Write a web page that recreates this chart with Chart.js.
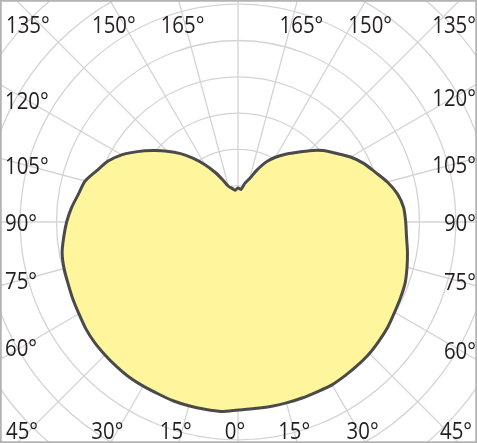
<!DOCTYPE html>
<html>
<head>
<meta charset="utf-8">
<script src="https://cdn.jsdelivr.net/npm/chart.js@4.4.1/dist/chart.umd.min.js"></script>
<style>
  html, body { margin: 0; padding: 0; background: #ffffff; }
  #wrap { width: 477px; height: 443px; position: relative; overflow: hidden; }
  canvas { display: block; }
</style>
</head>
<body>
<div id="wrap"><canvas id="c" width="477" height="443"></canvas></div>
<script>
// ---- data (luminous intensity, cd/klm) ----
// gamma angles 0..180 in 5 degree steps
const gammaAngles = [0,5,10,15,20,25,30,35,40,45,50,55,60,65,70,75,80,85,90,
                     95,100,105,110,115,120,125,130,135,140,145,150,155,160,165,170,175,180];
// C270 half-plane (drawn on the left)
const intensityLeft = [259,262,262,262,262,261,261,261,260,259,258,256,253,251,249,248,246,241,236,
                       230,223,218,207,198,185,169,153,138,123,107,91,76,62,51,47,44,47];
// C90 half-plane (drawn on the right)
const intensityRight = [259,258,258,258,258,258,259,258,257,256,254,252,249,247,245,241,237,233,231,
                        229,223,213,201,191,179,165,153,139,125,114,103,91,76,62,54,45,47];
// angle labels shown around the frame
const labelAnglesLeft = [0,15,30,45,60,75,90,105,120,135,150,165];
const labelAnglesRight = [15,30,45,60,75,90,105,120,135,150,165];
// radial grid
const gridStep = 50;
const gridMax = 450;

// ---- build the full 360 degree sequence (clockwise from the bottom) ----
const seqLabels = [];
const seqValues = [];
for (let i = 0; i < gammaAngles.length; i++) {
  seqLabels.push(gammaAngles[i] + '°');
  seqValues.push(intensityLeft[i]);
}
for (let i = gammaAngles.length - 2; i >= 1; i--) {
  seqLabels.push(gammaAngles[i] + '°');
  seqValues.push(intensityRight[i]);
}

// layout of the polar origin inside the frame
const CENTER_X = 238, CENTER_Y = 222, PX_PER_STEP = 36.3;

const frameLabels = {
  id: 'frameLabels',
  afterDraw(chart) {
    const ctx = chart.ctx;
    const s = chart.scales.r;
    const W = chart.width, H = chart.height;
    const cx = s.xCenter, cy = s.yCenter;
    const fs = 24, sx = 0.85, capH = fs * 0.714;
    const TOP_Y = 24, BOT_Y = 430;
    ctx.save();
    ctx.font = '400 ' + fs + 'px "Open Sans", sans-serif';
    ctx.fillStyle = '#231f20';
    ctx.textAlign = 'center';
    ctx.textBaseline = 'alphabetic';
    const place = (deg, side) => {
      const text = deg + '°';
      const w = ctx.measureText(text).width * sx;
      const a = deg * Math.PI / 180;
      const dx = side * Math.sin(a), dy = Math.cos(a);
      const tTop = dy < -1e-9 ? (0 - cy) / dy : Infinity;
      const tBot = dy > 1e-9 ? (H - cy) / dy : Infinity;
      const tSide = Math.abs(dx) > 1e-9 ? ((dx < 0 ? 0 : W) - cx) / dx : Infinity;
      let x, y;
      if (Math.min(tTop, tBot) <= tSide) {
        const t = Math.min(tTop, tBot);
        x = cx + dx * t + (dy < 0 ? 4 : -3);
        y = dy < 0 ? TOP_Y : BOT_Y;
        x = Math.max(6 + w / 2, Math.min(W - 1 - w / 2, x));
      } else {
        x = dx < 0 ? 5 + w / 2 : W - 1 - w / 2;
        const t = (x - cx) / dx;
        y = cy + dy * t;
      }
      ctx.save();
      ctx.translate(x, y + capH / 2);
      ctx.scale(sx, 1);
      ctx.fillText(text, 0, 0);
      ctx.restore();
    };
    labelAnglesLeft.forEach(d => place(d, -1));
    labelAnglesRight.forEach(d => place(d, 1));
    // frame
    ctx.strokeStyle = '#b3b3b3';
    ctx.lineWidth = 2.5;
    ctx.strokeRect(0.5, 0.5, W - 1, H - 1);
    ctx.restore();
  }
};

new Chart(document.getElementById('c'), {
  type: 'radar',
  data: {
    labels: seqLabels,
    datasets: [{
      data: seqValues,
      borderColor: '#4a4a4a',
      borderWidth: 3,
      backgroundColor: '#fff59c',
      fill: 'start',
      pointRadius: 0,
      tension: 0.25,
      borderJoinStyle: 'round'
    }]
  },
  options: {
    responsive: false,
    animation: false,
    plugins: { legend: { display: false }, tooltip: { enabled: false } },
    layout: { padding: 0 },
    scales: {
      r: {
        min: 0,
        max: gridMax,
        startAngle: 180,
        ticks: { display: false, stepSize: gridStep },
        pointLabels: { display: false },
        grid: { circular: true, color: '#d4d4d4', lineWidth: 1.3 },
        angleLines: {
          display: true,
          color: '#d4d4d4',
          lineWidth: (ctx) => (ctx.index % 3 === 0 ? 1.3 : 0)
        },
        afterFit(scale) {
          scale.xCenter = CENTER_X;
          scale.yCenter = CENTER_Y;
          scale.drawingArea = (gridMax / gridStep) * PX_PER_STEP;
        }
      }
    }
  },
  plugins: [frameLabels]
});
</script>
</body>
</html>
